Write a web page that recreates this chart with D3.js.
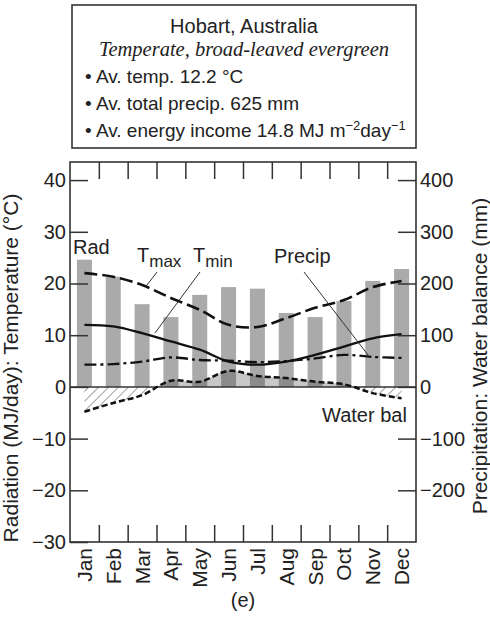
<!DOCTYPE html>
<html>
<head>
<meta charset="utf-8">
<script src="https://cdn.jsdelivr.net/npm/d3@7"></script>
<style>
  body { margin: 0; background: #fff; }
  svg { display: block; font-family: "Liberation Sans", Arial, sans-serif; }
</style>
</head>
<body>
<svg id="chart" width="490" height="618"></svg>
<script>
// monthly climate values
const months = ["Jan", "Feb", "Mar", "Apr", "May", "Jun", "Jul", "Aug", "Sep", "Oct", "Nov", "Dec"];
const rad = [24.6, 21.3, 16.0, 13.5, 17.8, 19.3, 19.0, 14.3, 13.5, 16.6, 20.5, 22.8];   // MJ/day
const tmax = [22.0, 21.3, 19.7, 17.2, 14.9, 12.0, 11.6, 13.3, 15.3, 16.8, 19.3, 20.5];  // °C
const tmin = [12.0, 11.7, 10.4, 8.8, 7.2, 4.9, 4.3, 4.9, 6.2, 7.8, 9.4, 10.2];          // °C
const precip = [43, 44, 49, 57, 52, 51, 48, 50, 55, 62, 58, 56];                        // mm
const waterBal = [-48, -31, -16, 12, 10, 31, 21, 17, 10, 5, -12, -22];                   // mm
const leftTicks = [-30, -20, -10, 0, 10, 20, 30, 40];
const rightTicks = [-200, -100, 0, 100, 200, 300, 400];

const svg = d3.select("#chart");
const pl = 70, pr = 416, pt = 162, pb = 542;
const ink = "#222";

const x = d3.scaleBand().domain(months).range([pl, pr]);
const xEdge = d3.scaleLinear().domain([0, 12]).range([pl, pr]);
const y = d3.scaleLinear().domain([-30, 43.5]).range([pb, pt]);
const yR = d3.scaleLinear().domain([-300, 435]).range([pb, pt]);
const cx = m => x(m) + x.bandwidth() / 2;

// info box
const box = svg.append("g");
box.append("rect").attr("x", 72).attr("y", 5).attr("width", 344).attr("height", 143)
  .attr("fill", "none").attr("stroke", "#333").attr("stroke-width", 1.6);
box.append("text").attr("x", 244).attr("y", 33).attr("text-anchor", "middle")
  .attr("font-size", 20).attr("fill", ink).text("Hobart, Australia");
box.append("text").attr("x", 244).attr("y", 56).attr("text-anchor", "middle")
  .attr("font-family", "'Liberation Serif', 'Times New Roman', serif").attr("font-style", "italic")
  .attr("font-size", 20.5).attr("fill", ink).text("Temperate, broad-leaved evergreen");
box.append("text").attr("x", 85).attr("y", 83).attr("font-size", 19).attr("fill", ink)
  .text("• Av. temp. 12.2 °C");
box.append("text").attr("x", 85).attr("y", 110).attr("font-size", 19).attr("fill", ink)
  .text("• Av. total precip. 625 mm");
const en = box.append("text").attr("x", 85).attr("y", 137).attr("font-size", 19).attr("fill", ink);
en.append("tspan").text("• Av. energy income 14.8 MJ m");
en.append("tspan").attr("font-size", 13).attr("dy", -7).text("−2");
en.append("tspan").attr("dy", 7).text("day");
en.append("tspan").attr("font-size", 13).attr("dy", -7).text("−1");

// clip regions above / below zero
const defs = svg.append("defs");
defs.append("clipPath").attr("id", "above").append("rect")
  .attr("x", pl).attr("y", pt).attr("width", pr - pl).attr("height", y(0) - pt);
defs.append("clipPath").attr("id", "below").append("rect")
  .attr("x", pl).attr("y", y(0)).attr("width", pr - pl).attr("height", pb - y(0));
const hatch = defs.append("pattern").attr("id", "hatch").attr("patternUnits", "userSpaceOnUse")
  .attr("width", 7).attr("height", 7).attr("patternTransform", "rotate(45)");
hatch.append("line").attr("x1", 0).attr("y1", 0).attr("x2", 0).attr("y2", 7)
  .attr("stroke", "#777").attr("stroke-width", 1.4);

// radiation bars
svg.append("g").selectAll("rect").data(months).join("rect")
  .attr("x", m => cx(m) - 7.5)
  .attr("width", 15)
  .attr("y", (m, i) => y(rad[i]))
  .attr("height", (m, i) => y(0) - y(rad[i]))
  .attr("fill", "#aaa");

// water balance areas
const curve = d3.curveCatmullRom.alpha(0.5);
const wbArea = d3.area().x((d, i) => cx(months[i])).y0(y(0)).y1(d => yR(d)).curve(curve);
svg.append("path").datum(waterBal).attr("d", wbArea).attr("clip-path", "url(#above)")
  .attr("fill", "#444").attr("fill-opacity", 0.3);
svg.append("path").datum(waterBal).attr("d", wbArea).attr("clip-path", "url(#below)")
  .attr("fill", "url(#hatch)");

// zero line
svg.append("line").attr("x1", pl).attr("x2", pr).attr("y1", y(0)).attr("y2", y(0))
  .attr("stroke", "#333").attr("stroke-width", 1.5);

// series lines
const lineL = d3.line().x((d, i) => cx(months[i])).y(d => y(d)).curve(curve);
const lineR = d3.line().x((d, i) => cx(months[i])).y(d => yR(d)).curve(curve);
const series = [
  { data: tmax, gen: lineL, dash: "13,5", w: 2.6 },
  { data: tmin, gen: lineL, dash: null, w: 2.3 },
  { data: precip, gen: lineR, dash: "12,4,3,4", w: 2.3 },
  { data: waterBal, gen: lineR, dash: "6,3", w: 2.5 }
];
series.forEach(s => {
  svg.append("path").datum(s.data).attr("d", s.gen)
    .attr("fill", "none").attr("stroke", "#111").attr("stroke-width", s.w)
    .attr("stroke-dasharray", s.dash);
});

// axes
const styleAxis = g => {
  g.select(".domain").remove();
  g.selectAll(".tick line").attr("stroke", "#333").attr("stroke-width", 1.5);
  g.selectAll("text").attr("fill", ink).attr("font-family", "'Liberation Sans', Arial, sans-serif");
};
svg.append("g").attr("transform", `translate(${pl},0)`)
  .call(d3.axisLeft(y).tickValues(leftTicks).tickSize(-18).tickPadding(4))
  .attr("font-size", 20).call(styleAxis);
svg.append("g").attr("transform", `translate(${pr},0)`)
  .call(d3.axisRight(yR).tickValues(rightTicks).tickSize(-18).tickPadding(4))
  .attr("font-size", 20).call(styleAxis);
svg.append("g").attr("transform", `translate(0,${pb})`)
  .call(d3.axisBottom(xEdge).tickValues(d3.range(1, 12)).tickSize(-17).tickFormat(""))
  .call(styleAxis);
svg.append("g").attr("transform", `translate(0,${pt})`)
  .call(d3.axisTop(xEdge).tickValues(d3.range(1, 12)).tickSize(-17).tickFormat(""))
  .call(styleAxis);
svg.append("g").attr("transform", `translate(0,${pb})`)
  .call(d3.axisBottom(x).tickSize(0).tickPadding(0))
  .attr("font-size", 21).call(styleAxis)
  .selectAll("text")
  .attr("transform", "rotate(-90)")
  .attr("text-anchor", "end")
  .attr("x", -6).attr("y", 0).attr("dy", "0.36em");

// frame
svg.append("rect").attr("x", pl).attr("y", pt).attr("width", pr - pl).attr("height", pb - pt)
  .attr("fill", "none").attr("stroke", "#333").attr("stroke-width", 1.6);

// axis titles
svg.append("text").attr("transform", "translate(18,368) rotate(-90)").attr("text-anchor", "middle")
  .attr("font-size", 21).attr("fill", ink).text("Radiation (MJ/day): Temperature (°C)");
svg.append("text").attr("transform", "translate(487,356) rotate(-90)").attr("text-anchor", "middle")
  .attr("font-size", 21).attr("fill", ink).text("Precipitation: Water balance (mm)");
svg.append("text").attr("x", 243).attr("y", 607).attr("text-anchor", "middle")
  .attr("font-size", 20).attr("fill", ink).text("(e)");

// series labels and pointers
const lab = svg.append("g").attr("font-size", 20).attr("fill", ink);
lab.append("text").attr("x", 73).attr("y", 254).text("Rad");
const tx = lab.append("text").attr("x", 137).attr("y", 262);
tx.append("tspan").text("T");
tx.append("tspan").attr("font-size", 17).attr("dy", 5).text("max");
const tn = lab.append("text").attr("x", 193).attr("y", 262);
tn.append("tspan").text("T");
tn.append("tspan").attr("font-size", 17).attr("dy", 5).text("min");
lab.append("text").attr("x", 274).attr("y", 263).text("Precip");
lab.append("text").attr("x", 322).attr("y", 422).text("Water bal");

const ptr = svg.append("g").attr("stroke", "#333").attr("stroke-width", 1);
ptr.append("line").attr("x1", 157).attr("y1", 272).attr("x2", 147).attr("y2", 285);
ptr.append("line").attr("x1", 200).attr("y1", 272).attr("x2", 155).attr("y2", 333);
ptr.append("line").attr("x1", 304).attr("y1", 272).attr("x2", 368).attr("y2", 355);
</script>
</body>
</html>
